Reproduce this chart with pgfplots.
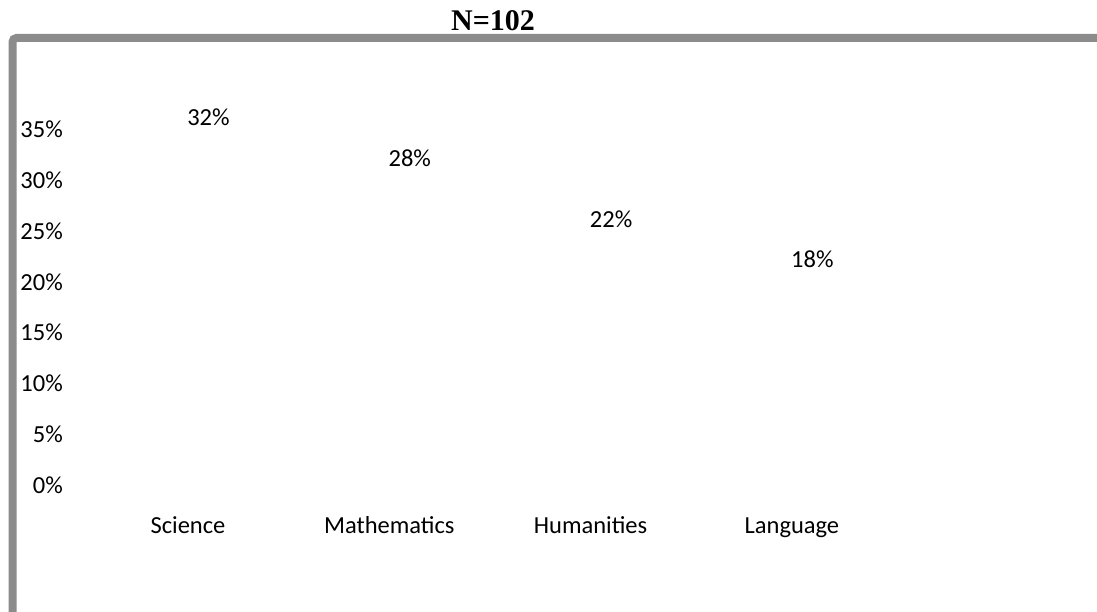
\documentclass[border=0pt]{standalone}
\usepackage{fontspec}
\setmainfont{Carlito}
\newfontfamily\titlefont{Liberation Serif}
\usepackage{pgfplots}
\pgfplotsset{compat=1.18}
\definecolor{framegray}{HTML}{8C8C8C}
\newcommand\lblfont{\fontsize{24.5}{29}\selectfont}
\begin{document}
\begin{tikzpicture}[x=1pt,y=1pt]
\useasboundingbox (0,0) rectangle (1097,611);
% chart frame (left and top edges)
\draw[framegray, line width=8pt, rounded corners=4pt] (12.5,-10) -- (12.5,573) -- (1110,573);
\node[font=\titlefont\bfseries\fontsize{30}{34}\selectfont, anchor=base] at (493,580) {N=102};
\begin{axis}[
  at={(87.35pt,125pt)}, anchor=south west,
  scale only axis, width=805.2pt, height=355pt,
  xmin=-0.5, xmax=3.5, ymin=0, ymax=35,
  enlargelimits=false,
  axis line style={draw=none},
  major tick length=0pt,
  xtick={0,1,2,3},
  xticklabels={Science,Mathematics,Humanities,Language},
  ytick={0,5,...,35},
  yticklabels={0\%,5\%,10\%,15\%,20\%,25\%,30\%,35\%},
  tick label style={font=\lblfont},
  yticklabel style={anchor=base east, inner sep=0pt, xshift=-24.35pt, yshift=-7pt},
  xticklabel style={anchor=base, inner sep=0pt, yshift=-47pt},
  clip=false,
]
\addplot[ybar, bar width=20pt, draw=none, fill=none,
  nodes near coords={\pgfmathprintnumber[assume math mode=true]{\pgfplotspointmeta}\%},
  every node near coord/.append style={anchor=base, inner sep=0pt, xshift=20.5pt, yshift=35.5pt, font=\lblfont, text=black}]
  coordinates {(0,32) (1,28) (2,22) (3,18)};
\end{axis}
\end{tikzpicture}
\end{document}
